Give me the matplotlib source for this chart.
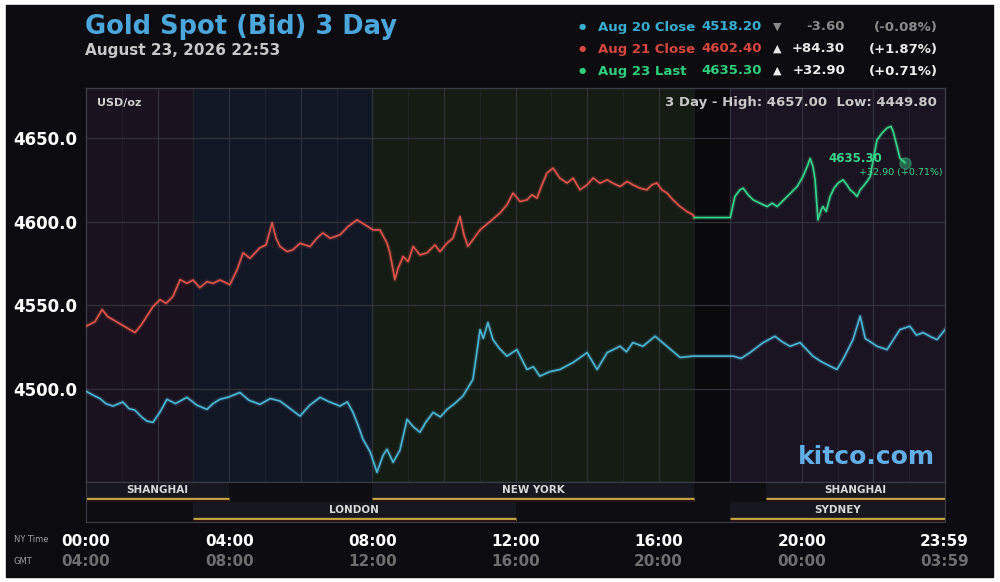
import matplotlib
matplotlib.use('Agg')
import matplotlib.pyplot as plt
from matplotlib.patches import Rectangle

# ---- data (hours since 00:00 NY time, USD/oz) ----
aug20_hours = [0.00, 0.20, 0.39, 0.55, 0.75, 1.03, 1.20, 1.37, 1.55, 1.70, 1.87, 2.07, 2.26,
               2.50, 2.82, 3.10, 3.38, 3.55, 3.74, 4.00, 4.30, 4.55, 4.86, 5.15, 5.42, 5.70,
               5.98, 6.25, 6.54, 6.80, 7.10, 7.30, 7.46, 7.60, 7.74, 7.94, 8.13, 8.30, 8.41,
               8.58, 8.77, 8.97, 9.15, 9.33, 9.50, 9.70, 9.90, 10.09, 10.30, 10.53, 10.81,
               11.01, 11.10, 11.23, 11.37, 11.55, 11.76, 12.04, 12.32, 12.50, 12.68, 12.95,
               13.24, 13.61, 14.00, 14.28, 14.56, 14.92, 15.10, 15.28, 15.56, 15.90, 16.23,
               16.60, 16.96, 18.08, 18.30, 18.55, 18.92, 19.25, 19.45, 19.67, 19.95, 20.31,
               20.55, 20.79, 20.98, 21.15, 21.43, 21.63, 21.77, 22.10, 22.38, 22.74, 23.02,
               23.20, 23.39, 23.60, 23.78, 24.00]
aug20_price = [4498.4, 4496.0, 4494.0, 4491.0, 4489.5, 4491.9, 4488.0, 4487.0, 4483.0, 4480.5,
               4479.7, 4486.0, 4493.5, 4491.0, 4494.7, 4490.0, 4487.5, 4491.0, 4493.5, 4495.0,
               4497.6, 4493.0, 4490.5, 4494.0, 4492.5, 4488.0, 4483.5, 4490.0, 4494.7, 4492.0,
               4489.5, 4492.0, 4485.7, 4478.0, 4469.6, 4462.0, 4449.8, 4460.0, 4463.6, 4455.8,
               4463.0, 4481.5, 4477.0, 4473.8, 4480.0, 4485.7, 4483.0, 4487.5, 4491.0, 4495.5,
               4505.4, 4535.3, 4530.0, 4539.5, 4529.3, 4524.0, 4519.4, 4523.3, 4511.4, 4513.0,
               4507.4, 4510.0, 4511.4, 4515.6, 4521.5, 4511.4, 4521.5, 4525.3, 4522.0, 4527.5,
               4525.3, 4531.3, 4525.3, 4518.6, 4519.4, 4519.4, 4518.0, 4521.5, 4527.5, 4531.3,
               4528.0, 4525.3, 4527.5, 4519.4, 4516.0, 4513.4, 4511.4, 4517.4, 4529.3, 4543.3,
               4530.0, 4525.3, 4523.3, 4535.3, 4537.3, 4532.0, 4533.5, 4531.0, 4529.3, 4535.3]

aug21_hours = [0.00, 0.25, 0.45, 0.61, 0.75, 1.01, 1.17, 1.37, 1.54, 1.70, 1.87, 2.07, 2.24,
               2.43, 2.63, 2.82, 2.99, 3.18, 3.38, 3.55, 3.74, 4.02, 4.22, 4.39, 4.58, 4.86,
               5.03, 5.20, 5.31, 5.42, 5.62, 5.78, 5.98, 6.26, 6.45, 6.62, 6.82, 7.10, 7.32,
               7.57, 7.80, 8.02, 8.21, 8.41, 8.49, 8.63, 8.72, 8.86, 9.00, 9.14, 9.33, 9.53,
               9.75, 9.89, 10.09, 10.25, 10.45, 10.56, 10.67, 10.84, 11.01, 11.29, 11.57,
               11.76, 11.93, 12.13, 12.32, 12.46, 12.60, 12.74, 12.88, 13.05, 13.24, 13.44,
               13.61, 13.80, 14.00, 14.17, 14.36, 14.56, 14.72, 14.92, 15.12, 15.28, 15.48,
               15.67, 15.81, 15.95, 16.09, 16.23, 16.40, 16.60, 16.79, 16.96, 17.00]
aug21_price = [4537.3, 4540.0, 4547.3, 4543.0, 4541.3, 4538.0, 4536.0, 4533.5, 4538.0, 4543.3,
               4549.0, 4553.2, 4551.0, 4555.2, 4565.2, 4563.0, 4565.0, 4560.4, 4564.0, 4563.0,
               4565.0, 4562.2, 4571.1, 4581.3, 4578.0, 4584.3, 4586.0, 4599.2, 4590.0, 4585.1,
               4582.0, 4583.1, 4587.0, 4585.0, 4590.0, 4593.2, 4590.0, 4592.1, 4597.0, 4601.0,
               4598.0, 4595.0, 4595.0, 4587.1, 4581.3, 4565.2, 4572.0, 4579.1, 4576.0, 4585.1,
               4580.0, 4581.3, 4586.0, 4582.0, 4587.1, 4590.0, 4603.0, 4592.0, 4585.1, 4590.0,
               4595.0, 4600.0, 4605.2, 4610.0, 4617.1, 4612.0, 4613.0, 4616.0, 4614.0, 4622.0,
               4629.1, 4632.0, 4626.0, 4623.1, 4626.0, 4619.0, 4622.0, 4626.1, 4623.0, 4625.0,
               4623.0, 4621.0, 4624.0, 4622.0, 4620.0, 4619.0, 4622.0, 4623.1, 4619.0, 4617.1,
               4613.0, 4609.0, 4606.0, 4604.0, 4602.4]

aug23_hours = [17.00, 18.00, 18.13, 18.27, 18.36, 18.50, 18.64, 18.83, 19.03, 19.17, 19.31,
               19.45, 19.59, 19.73, 19.87, 20.03, 20.17, 20.23, 20.31, 20.37, 20.45, 20.54,
               20.59, 20.68, 20.79, 20.90, 21.01, 21.15, 21.26, 21.35, 21.46, 21.54, 21.63,
               21.71, 21.82, 21.91, 22.02, 22.10, 22.24, 22.38, 22.49, 22.55, 22.66, 22.74,
               22.88]
aug23_price = [4602.4, 4602.4, 4615.0, 4619.0, 4620.0, 4616.0, 4613.0, 4611.0, 4609.0, 4611.0,
               4609.0, 4612.0, 4615.0, 4618.0, 4621.0, 4626.9, 4634.0, 4637.8, 4633.0, 4625.0,
               4601.0, 4607.0, 4609.0, 4606.0, 4615.0, 4620.0, 4623.0, 4625.0, 4622.0, 4619.0,
               4617.0, 4615.0, 4619.0, 4621.0, 4624.0, 4627.0, 4640.0, 4648.8, 4653.0, 4656.0,
               4657.0, 4654.0, 4645.0, 4638.0, 4635.3]

# background bands behind the price area
band_edges = [(0, 3), (3, 8), (8, 17), (17, 18), (18, 24)]
band_colors = ['#1a121e', '#121725', '#151c14', '#0a0a0d', '#1a1322']

# trading sessions: name, start, end, row (1 = top row, 0 = bottom row)
session_names = ['SHANGHAI', 'LONDON', 'NEW YORK', 'SHANGHAI', 'SYDNEY']
session_start = [0, 3, 8, 19, 18]
session_end = [4, 12, 17, 24, 24]
session_row = [1, 0, 1, 1, 0]

ny_ticks = [0, 4, 8, 12, 16, 20, 23.983]
ny_labels = ['00:00', '04:00', '08:00', '12:00', '16:00', '20:00', '23:59']
gmt_labels = ['04:00', '08:00', '12:00', '16:00', '20:00', '00:00', '03:59']
y_ticks = [4500, 4550, 4600, 4650]

legend_rows = [('Aug 20 Close', '4518.20', '▼', '-3.60', '(-0.08%)', '#38aed2', '#8a8a8a'),
               ('Aug 21 Close', '4602.40', '▲', '+84.30', '(+1.87%)', '#d8463e', '#e8e8e8'),
               ('Aug 23 Last', '4635.30', '▲', '+32.90', '(+0.71%)', '#2fcf7c', '#f0f0f0')]

blue = '#4cb6d6'
red = '#e0544c'
green = '#38d68a'
gold = '#c4a440'

W, H = 1000, 582


def fx(x):
    return x / W


def fy(y):
    return 1 - y / H


fig = plt.figure(figsize=(10, 5.82), dpi=100, facecolor='white')
fig.patches.append(Rectangle((fx(6), fy(577)), fx(987), 572 / H, transform=fig.transFigure,
                             color='#0b0b10', zorder=-10))

ax = fig.add_axes([fx(86), fy(482), fx(859), 394 / H])
ax.set_facecolor('#0d0d12')
ax.set_xlim(0, 24)
ax.set_ylim(4444, 4680)

for (a, b), c in zip(band_edges, band_colors):
    ax.axvspan(a, b, color=c, zorder=0, lw=0)

for h in range(1, 24):
    if h % 2 == 0:
        ax.axvline(h, color='#383844', lw=0.9, alpha=0.8, zorder=1)
    else:
        ax.axvline(h, color='#2a2a34', lw=0.6, alpha=0.7, zorder=1)
for v in y_ticks:
    ax.axhline(v, color='#32323c', lw=0.9, zorder=1)

for hrs, px, c in [(aug20_hours, aug20_price, blue), (aug21_hours, aug21_price, red),
                   (aug23_hours, aug23_price, green)]:
    ax.plot(hrs, px, color=c, lw=3.2, alpha=0.2, zorder=3, solid_joinstyle='round')
    ax.plot(hrs, px, color=c, lw=1.2, zorder=4, solid_joinstyle='round')

ax.plot(aug23_hours[-1], aug23_price[-1], 'o', color=green, ms=8, alpha=0.4, zorder=5)
ax.annotate('4635.30', (aug23_hours[-1], aug23_price[-1]), xytext=(-36, 3),
            textcoords='offset points', ha='center', va='center', color=green,
            fontsize=8.5, fontweight='bold', zorder=6)
ax.annotate('+32.90 (+0.71%)', (aug23_hours[-1], aug23_price[-1]), xytext=(27, -7),
            textcoords='offset points', ha='right', va='center', color=green,
            fontsize=6.8, zorder=6)

ax.set_yticks(y_ticks)
ax.set_yticklabels(['{:.1f}'.format(v) for v in y_ticks])
ax.set_xticks([])
ax.tick_params(axis='y', length=0, pad=6, labelcolor='white', labelsize=12)
for lbl in ax.get_yticklabels():
    lbl.set_fontweight('bold')
for s in ax.spines.values():
    s.set_color('#3c3c46')
    s.set_linewidth(1)

ax.text(0.013, 0.963, 'USD/oz', transform=ax.transAxes, color='#d0d0d0', fontsize=8,
        fontweight='bold', va='center', ha='left')
ax.text(0.99, 0.963, '3 Day - High: 4657.00  Low: 4449.80', transform=ax.transAxes,
        color='#c8c8c8', fontsize=9.5, fontweight='bold', va='center', ha='right')
ax.text(0.988, 0.063, 'kitco.com', transform=ax.transAxes, color='#62aee6', fontsize=18,
        fontweight='bold', va='center', ha='right')

# session rows
sax = fig.add_axes([fx(86), fy(522), fx(859), 40 / H])
sax.set_facecolor('#0d0d12')
sax.set_xlim(0, 24)
sax.set_ylim(0, 2)
sax.set_xticks([])
sax.set_yticks([])
for s in sax.spines.values():
    s.set_color('#3c3c46')
for name, a, b, r in zip(session_names, session_start, session_end, session_row):
    sax.barh(r + 0.5, b - a, left=a, height=1, color='#17171f', lw=0, zorder=1)
    sax.hlines(r + 0.17, a, b, color=gold, lw=2.4, zorder=2)
    sax.hlines(r + 0.04, a, b, color='#2a1219', lw=1.5, zorder=2)
    sax.text((a + b) / 2, r + 0.6, name, color='#d8d8d8', fontsize=7.5, fontweight='bold',
             ha='center', va='center', zorder=3)

# titles and legend block
fig.text(fx(85), fy(27), 'Gold Spot (Bid) 3 Day', color='#4ba6dc', fontsize=18.5,
         fontweight='bold', va='center')
fig.text(fx(85), fy(51), 'August 23, 2026 22:53', color='#c8c8c8', fontsize=11,
         fontweight='bold', va='center')
for i, (lab, val, arr, chg, pct, c, c2) in enumerate(legend_rows):
    y = fy(27 + 22 * i)
    fig.text(fx(582), y, '●', color=c, fontsize=6, ha='center', va='center')
    fig.text(fx(598), y, lab, color=c, fontsize=9.5, fontweight='bold', va='center')
    fig.text(fx(762), y, val, color=c, fontsize=9.5, fontweight='bold', va='center', ha='right')
    fig.text(fx(777), y, arr, color=c2, fontsize=8, va='center', ha='center')
    fig.text(fx(845), y, chg, color=c2, fontsize=9.5, fontweight='bold', va='center', ha='right')
    fig.text(fx(938), y, pct, color=c2, fontsize=9.5, fontweight='bold', va='center', ha='right')

# time axis labels
fig.text(fx(14), fy(540), 'NY Time', color='#a0a0a0', fontsize=6, va='center')
fig.text(fx(14), fy(561), 'GMT', color='#a0a0a0', fontsize=6, va='center')
for t, ny, gmt in zip(ny_ticks, ny_labels, gmt_labels):
    xp = fx(86 + t / 24 * 859)
    fig.text(xp, fy(541), ny, color='white', fontsize=11, fontweight='bold', ha='center', va='center')
    fig.text(xp, fy(561), gmt, color='#6e6e6e', fontsize=11, fontweight='bold', ha='center', va='center')

fig.savefig('out.png', dpi=100, facecolor=fig.get_facecolor())
